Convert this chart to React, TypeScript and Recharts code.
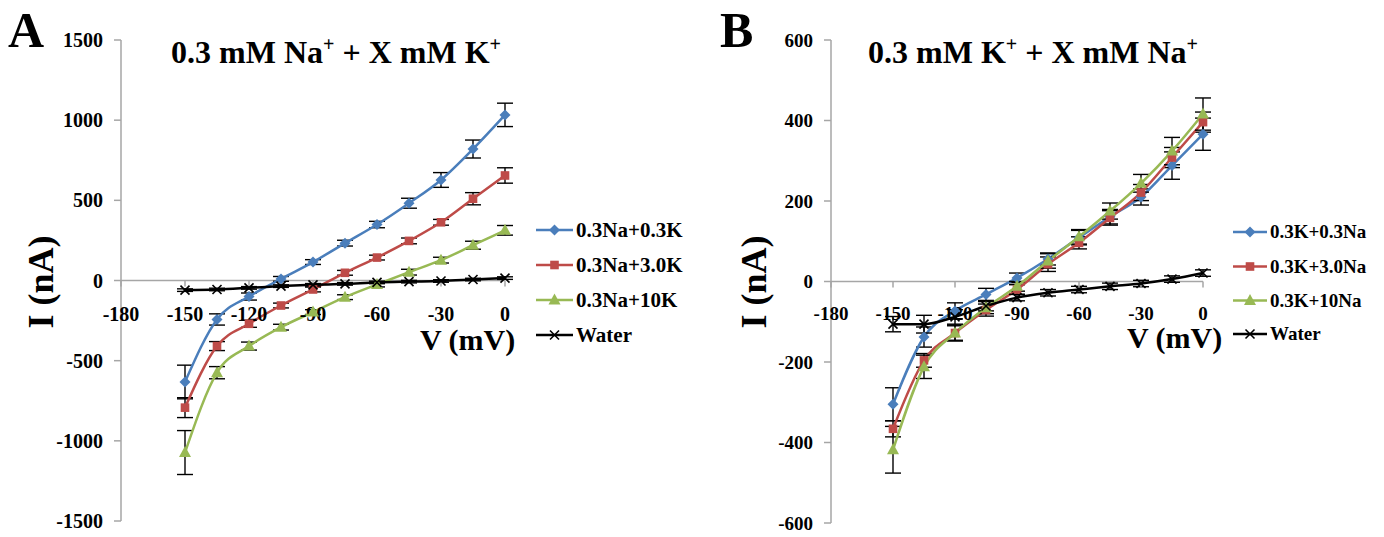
import React from 'react';
import { LineChart, Line, XAxis, YAxis, ErrorBar, ReferenceLine, ReferenceDot } from 'recharts';

const FONT = "'Liberation Serif', 'Times New Roman', serif";

// Membrane voltage (mV)
const voltages = [-150, -135, -120, -105, -90, -75, -60, -45, -30, -15, 0];
const xTicks = [-180, -150, -120, -90, -60, -30, 0];
const aYTicks = [-1500, -1000, -500, 0, 500, 1000, 1500];
const bYTicks = [-600, -400, -200, 0, 200, 400, 600];

// Panel A: 0.3 mM Na+ + X mM K+ (current, nA)
const aNa03K03 = [-633, -243, -100, 10, 115, 233, 349, 482, 627, 820, 1033];
const aNa03K30 = [-793, -409, -270, -156, -56, 48, 143, 247, 363, 510, 655];
const aNa03K10 = [-1073, -575, -409, -291, -197, -104, -25, 52, 127, 220, 313];
const aWater = [-60, -56, -46, -35, -27, -21, -12, -7, -3, 6, 15];
const aErrNa03K03 = [105, 35, 22, 15, 15, 18, 20, 31, 46, 56, 73];
const aErrNa03K30 = [62, 28, 22, 15, 15, 15, 15, 18, 18, 38, 48];
const aErrNa03K10 = [137, 38, 25, 18, 15, 15, 15, 18, 18, 25, 30];
const aErrWater = [8, 8, 8, 8, 8, 8, 8, 8, 8, 8, 8];

// Panel B: 0.3 mM K+ + X mM Na+ (current, nA)
const bK03Na03 = [-305, -138, -73, -32, 9, 56, 109, 161, 210, 288, 366];
const bK03Na30 = [-366, -196, -128, -71, -20, 43, 96, 158, 221, 308, 396];
const bK03Na10 = [-418, -212, -128, -65, -12, 51, 111, 175, 244, 324, 416];
const bWater = [-106, -106, -88, -61, -40, -28, -20, -12, -5, 6, 21];
const bErrK03Na03 = [41, 25, 20, 15, 12, 15, 18, 18, 20, 34, 40];
const bErrK03Na30 = [20, 17, 18, 15, 12, 18, 15, 18, 20, 25, 25];
const bErrK03Na10 = [58, 29, 20, 15, 12, 18, 18, 20, 22, 34, 40];
const bErrWater = [19, 22, 18, 12, 8, 8, 8, 8, 8, 8, 8];

const aSeriesNames = ['0.3Na+0.3K', '0.3Na+3.0K', '0.3Na+10K', 'Water'];
const bSeriesNames = ['0.3K+0.3Na', '0.3K+3.0Na', '0.3K+10Na', 'Water'];
const seriesColors = ['#4A7EBB', '#BE4B48', '#98B954', '#000000'];
const seriesShapes = ['diamond', 'square', 'triangle', 'x'];

function buildRows(values: number[][], errors: number[][]) {
  return voltages.map((v, i) => {
    const row: any = { v };
    values.forEach((s, k) => {
      row['s' + k] = s[i];
      row['e' + k] = errors[k][i];
    });
    return row;
  });
}

const aRows = buildRows([aNa03K03, aNa03K30, aNa03K10, aWater], [aErrNa03K03, aErrNa03K30, aErrNa03K10, aErrWater]);
const bRows = buildRows([bK03Na03, bK03Na30, bK03Na10, bWater], [bErrK03Na03, bErrK03Na30, bErrK03Na10, bErrWater]);

function Marker({ shape, cx, cy, color }: { shape: string; cx: number; cy: number; color: string }) {
  if (cx == null || cy == null || isNaN(cx) || isNaN(cy)) return <g />;
  if (shape === 'diamond') {
    const h = 5.5;
    return <polygon points={`${cx},${cy - h} ${cx + h},${cy} ${cx},${cy + h} ${cx - h},${cy}`} fill={color} />;
  }
  if (shape === 'square') {
    const h = 4.3;
    return <rect x={cx - h} y={cy - h} width={2 * h} height={2 * h} fill={color} />;
  }
  if (shape === 'triangle') {
    return <polygon points={`${cx},${cy - 6.5} ${cx + 6},${cy + 4.5} ${cx - 6},${cy + 4.5}`} fill={color} />;
  }
  const h = 4.5;
  return (
    <g stroke={color} strokeWidth={1.6}>
      <line x1={cx - h} y1={cy - h} x2={cx + h} y2={cy + h} />
      <line x1={cx - h} y1={cy + h} x2={cx + h} y2={cy - h} />
    </g>
  );
}

type PanelProps = {
  left: number;
  width: number;
  rows: any[];
  yDomain: [number, number];
  yTicks: number[];
  yAxisWidth: number;
  marginRight: number;
  marginBottom: number;
  fontSize: number;
  labelOffset: number;
};

function Panel({ left, width, rows, yDomain, yTicks, yAxisWidth, marginRight, marginBottom, fontSize, labelOffset }: PanelProps) {
  return (
    <div style={{ position: 'absolute', left, top: 0 }}>
      <LineChart width={width} height={537} data={rows} margin={{ top: 40, right: marginRight, bottom: marginBottom, left: 0 }}>
        <XAxis type="number" dataKey="v" domain={[-180, 0]} ticks={xTicks} hide />
        <YAxis
          type="number"
          domain={yDomain}
          ticks={yTicks}
          interval={0}
          width={yAxisWidth}
          stroke="#A6A6A6"
          strokeWidth={1.5}
          tickSize={7}
          tickMargin={11}
          tick={{ fill: '#000', fontSize, fontWeight: 'bold', fontFamily: FONT }}
        />
        <ReferenceLine y={0} stroke="#A6A6A6" strokeWidth={1.5} />
        {xTicks.map((t) => (
          <ReferenceDot
            key={'xt' + t}
            x={t}
            y={0}
            r={0}
            ifOverflow="visible"
            shape={(p: any) => (
              <g>
                <line x1={p.cx} y1={p.cy} x2={p.cx} y2={p.cy + 6} stroke="#A6A6A6" strokeWidth={1.5} />
                <text
                  x={p.cx}
                  y={p.cy + labelOffset}
                  textAnchor="middle"
                  fontSize={fontSize}
                  fontWeight="bold"
                  fontFamily={FONT}
                  fill="#000"
                >
                  {t}
                </text>
              </g>
            )}
          />
        ))}
        {[0, 1, 2, 3].map((k) => (
          <Line
            key={'s' + k}
            dataKey={'s' + k}
            type="monotone"
            stroke={seriesColors[k]}
            strokeWidth={2.5}
            isAnimationActive={false}
            dot={(p: any) => (
              <Marker key={`d${k}-${p.index}`} shape={seriesShapes[k]} cx={p.cx} cy={p.cy} color={seriesColors[k]} />
            )}
            activeDot={false}
          >
            <ErrorBar dataKey={'e' + k} width={8} strokeWidth={1.4} stroke="#000" direction="y" />
          </Line>
        ))}
      </LineChart>
    </div>
  );
}

function Legend({ names, x, ys, lineLen, fontSize }: { names: string[]; x: number; ys: number[]; lineLen: number; fontSize: number }) {
  return (
    <g>
      {names.map((n, k) => (
        <g key={n + k}>
          <line x1={x} y1={ys[k]} x2={x + lineLen} y2={ys[k]} stroke={seriesColors[k]} strokeWidth={2.5} />
          <Marker shape={seriesShapes[k]} cx={x + lineLen / 2} cy={ys[k]} color={seriesColors[k]} />
          <text x={x + lineLen + 3} y={ys[k] + fontSize * 0.34} fontSize={fontSize} fontWeight="bold" fontFamily={FONT} fill="#000">
            {n}
          </text>
        </g>
      ))}
    </g>
  );
}

function Title({ cx, y, a, b }: { cx: number; y: number; a: string; b: string }) {
  return (
    <text x={cx} y={y} textAnchor="middle" fontSize={32} fontWeight="bold" fontFamily={FONT} fill="#000">
      <tspan>{`0.3 mM ${a}`}</tspan>
      <tspan dy={-12} fontSize={20}>+</tspan>
      <tspan dy={12}>{` + X mM ${b}`}</tspan>
      <tspan dy={-12} fontSize={20}>+</tspan>
    </text>
  );
}

export default function App() {
  return (
    <div style={{ position: 'absolute', left: 0, top: 0, width: 1384, height: 537, background: '#fff' }}>
      <Panel
        left={0}
        width={700}
        rows={aRows}
        yDomain={[-1500, 1500]}
        yTicks={aYTicks}
        yAxisWidth={121}
        marginRight={195}
        marginBottom={16}
        fontSize={20}
        labelOffset={40}
      />
      <Panel
        left={700}
        width={684}
        rows={bRows}
        yDomain={[-600, 600]}
        yTicks={bYTicks}
        yAxisWidth={131}
        marginRight={181}
        marginBottom={14}
        fontSize={19}
        labelOffset={38}
      />
      <svg width={1384} height={537} style={{ position: 'absolute', left: 0, top: 0, pointerEvents: 'none' }}>
        <text x={8} y={47} fontSize={50} fontWeight="bold" fontFamily={FONT} fill="#000">A</text>
        <text x={720} y={47} fontSize={50} fontWeight="bold" fontFamily={FONT} fill="#000">B</text>
        <Title cx={336} y={63} a="Na" b="K" />
        <Title cx={1033} y={63} a="K" b="Na" />
        <text transform="translate(53,282) rotate(-90)" textAnchor="middle" fontSize={36} fontWeight="bold" fontFamily={FONT} fill="#000">I (nA)</text>
        <text transform="translate(766,282) rotate(-90)" textAnchor="middle" fontSize={36} fontWeight="bold" fontFamily={FONT} fill="#000">I (nA)</text>
        <text x={420} y={350} fontSize={30} fontWeight="bold" fontFamily={FONT} fill="#000">V (mV)</text>
        <text x={1127} y={348} fontSize={30} fontWeight="bold" fontFamily={FONT} fill="#000">V (mV)</text>
        <Legend names={aSeriesNames} x={536} ys={[230, 265, 300, 335]} lineLen={37} fontSize={21} />
        <Legend names={bSeriesNames} x={1233} ys={[232, 266.5, 300.5, 334]} lineLen={34} fontSize={19} />
      </svg>
    </div>
  );
}
